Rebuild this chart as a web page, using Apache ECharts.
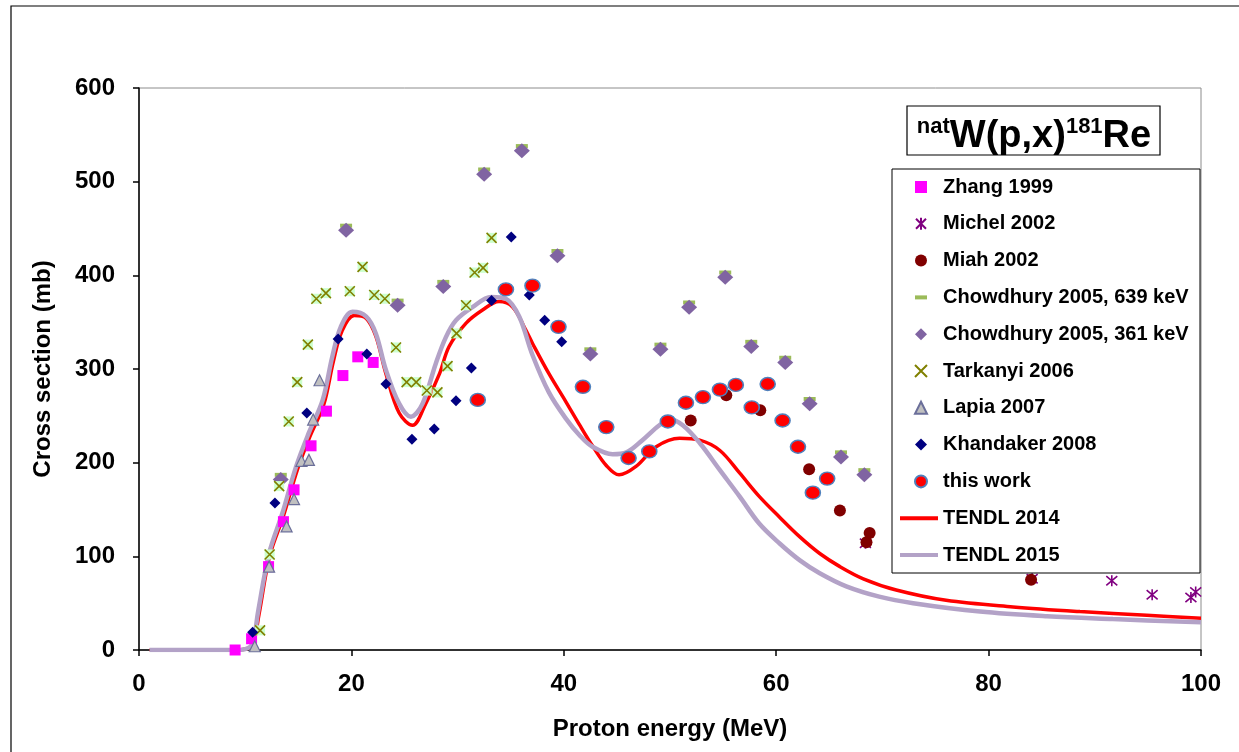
<!DOCTYPE html>
<html>
<head>
<meta charset="utf-8">
<script src="https://cdn.jsdelivr.net/npm/echarts@6/dist/echarts.min.js"></script>
<style>
  html, body { margin: 0; padding: 0; background: #fff; }
  #chart { width: 1239px; height: 752px; }
</style>
</head>
<body>
<div id="chart"></div>
<script>
// energy (MeV), cross section (mb)
var zhang1999 = [[9.05,0],[10.6,12],[12.2,89],[13.6,137],[14.6,171],[16.2,218],[17.65,255],[19.2,293],[20.6,313],[22.05,307]];
var michel2002 = [[68.4,114],[84.1,76],[91.6,74],[95.4,59],[99.05,56],[99.5,62]];
var miah2002 = [[51.95,245],[55.3,272],[58.5,256],[63.1,193],[66.0,149],[68.8,125],[68.5,115],[84.0,75]];
var chowdhury639 = [[13.35,187],[19.5,453],[24.35,373],[28.65,393],[32.5,513],[36.05,538],[39.4,426],[42.5,321],[49.1,326],[51.8,371],[55.2,403],[57.65,329],[60.85,312],[63.15,268],[66.1,211],[68.3,192]];
var chowdhury361 = [[13.35,182],[19.5,448],[24.35,368],[28.65,388],[32.5,508],[36.05,533],[39.4,421],[42.5,316],[49.1,321],[51.8,366],[55.2,398],[57.65,324],[60.85,307],[63.15,263],[66.1,206],[68.3,187]];
var tarkanyi2006 = [[11.4,21],[12.3,102],[13.2,175],[14.1,244],[14.9,286],[15.9,326],[16.7,375],[17.6,381],[19.85,383],[21.05,409],[22.15,379],[23.15,375],[24.2,323],[25.2,286],[26.1,286],[27.1,277],[28.1,275],[29.05,303],[29.9,338],[30.8,368],[31.6,403],[32.4,408],[33.2,440]];
var lapia2007 = [[10.9,4],[12.25,89],[13.9,132],[14.6,161],[15.3,202],[16.0,203],[16.4,246],[17.0,288]];
var khandaker2008 = [[10.7,19],[12.8,157],[15.8,253],[18.75,332],[21.45,316],[23.25,284],[25.7,225],[27.8,236],[29.85,266],[31.3,301],[33.2,373],[35.05,441],[36.75,379],[38.2,352],[39.8,329]];
var thisWork = [[31.9,267],[34.55,385],[37.05,389],[39.5,345],[41.8,281],[44.0,238],[46.1,205],[48.05,212],[49.8,244],[51.5,264],[53.1,270],[54.7,278],[56.2,283],[57.7,259],[59.2,284],[60.6,245],[62.05,217],[63.45,168],[64.8,183]];
var tendl2014 = [[1,0],[5,0],[9,0],[10,1],[10.7,5],[11.3,38],[12.3,100],[13.6,143],[14.9,192],[16.1,228],[17.4,262],[18.3,308],[19.1,340],[20.26,357],[21.4,354],[22.3,335],[23.25,295],[24.5,253],[25.76,240],[27.0,263],[28.3,295],[29.2,324],[30.8,349],[32.35,363],[33.9,372],[35.2,366],[36.4,342],[37.07,327],[38.6,295],[40.2,265],[41.5,240],[42.7,218],[44.0,197],[45.2,187],[46.8,196],[48.7,217],[50.9,226],[52.8,224],[54.7,213],[56.55,189],[58.4,164],[60.3,142],[62.2,121],[64.1,103],[66.0,89],[68.2,76],[71.3,64],[76.0,53],[82.3,46],[88.6,41],[94.9,37],[100,34]];
var tendl2015 = [[1,0],[5,0],[9,0],[10,1],[10.7,7],[11.2,40],[12.25,103],[13.5,146],[14.8,196],[16.0,232],[17.3,267],[18.2,313],[19.0,345],[20.1,361],[21.4,356],[22.3,338],[23.25,299],[24.5,263],[25.6,249],[26.7,263],[27.95,306],[28.9,334],[29.85,352],[31.4,366],[33.15,377],[34.55,375],[35.8,356],[37.05,315],[38.6,275],[40.2,247],[41.5,229],[42.7,217],[44.6,209],[45.9,211],[47.4,224],[49.0,240],[50.0,246],[51.2,240],[52.8,221],[54.7,192],[56.55,164],[58.4,135],[60.3,114],[62.2,96],[64.1,82],[66.6,68],[69.7,57],[72.9,50],[79.2,41],[85.5,36],[91.7,33],[100,29.5]];

var xTicks = { min: 0, max: 100, interval: 20 };
var yTicks = { min: 0, max: 600, interval: 100 };

var font = "'Liberation Sans', Arial, sans-serif";
var asterisk = 'path://M0,0L10,10M10,0L0,10M5,-1L5,11';
var cross = 'path://M0,0L10,10M10,0L0,10';
// dash with empty move-to points so the legend icon keeps its flat shape
var dashIcon = 'path://M0,-4L0,-4M0,0h12v4h-12zM0,8L0,8';

var myChart = echarts.init(document.getElementById('chart'));

function scatter(name, data, symbol, size, style, z) {
  style.opacity = 1;
  return {
    name: name,
    type: 'scatter',
    data: data,
    symbol: symbol,
    symbolSize: size,
    itemStyle: style,
    z: z || 3,
    silent: true
  };
}

var legendText = { fontFamily: font, fontWeight: 'bold', fontSize: 20, color: '#000', lineHeight: 22 };

option = {
  animation: false,
  backgroundColor: '#fff',
  grid: {
    left: 139, right: 38, top: 88, bottom: 102,
    show: true, borderColor: '#8c8c8c', borderWidth: 1
  },
  xAxis: {
    type: 'value',
    min: xTicks.min, max: xTicks.max, interval: xTicks.interval,
    name: 'Proton energy (MeV)',
    nameLocation: 'middle',
    nameGap: 67,
    nameTextStyle: { fontFamily: font, fontWeight: 'bold', fontSize: 24, color: '#000' },
    axisLine: { lineStyle: { color: '#000', width: 1.5 } },
    axisTick: { inside: false, length: 6, lineStyle: { color: '#000', width: 1.5 } },
    axisLabel: { margin: 22, fontFamily: font, fontWeight: 'bold', fontSize: 24, color: '#000' },
    splitLine: { show: false }
  },
  yAxis: {
    type: 'value',
    min: yTicks.min, max: yTicks.max, interval: yTicks.interval,
    name: 'Cross section (mb)',
    nameLocation: 'middle',
    nameGap: 84,
    nameTextStyle: { fontFamily: font, fontWeight: 'bold', fontSize: 24, color: '#000' },
    axisLine: { show: true, lineStyle: { color: '#000', width: 1.5 } },
    axisTick: { show: true, inside: false, length: 6, lineStyle: { color: '#000', width: 1.5 } },
    axisLabel: { margin: 24, fontFamily: font, fontWeight: 'bold', fontSize: 24, color: '#000' },
    splitLine: { show: false }
  },
  legend: [
    {
      orient: 'vertical',
      left: 914, top: 176,
      padding: 0,
      selectedMode: false,
      itemWidth: 12, itemHeight: 12, itemGap: 14.8,
      textStyle: Object.assign({ padding: [0, 0, 0, 11] }, legendText),
      data: [
        'Zhang 1999', 'Michel 2002', 'Miah 2002',
        { name: 'Chowdhury 2005, 639 keV', icon: dashIcon },
        'Chowdhury 2005, 361 keV', 'Tarkanyi 2006', 'Lapia 2007',
        'Khandaker 2008', 'this work'
      ]
    },
    {
      orient: 'vertical',
      left: 900, top: 507.2,
      padding: 0,
      selectedMode: false,
      itemWidth: 38, itemHeight: 4, itemGap: 14.8,
      textStyle: legendText,
      data: [
        { name: 'TENDL 2014', icon: 'rect' },
        { name: 'TENDL 2015', icon: 'rect' }
      ]
    }
  ],
  series: [
    {
      name: 'TENDL 2014', type: 'line', data: tendl2014, smooth: 0.35,
      symbol: 'none', z: 1, silent: true,
      lineStyle: { color: '#ff0000', width: 3.5 }, itemStyle: { color: '#ff0000' }
    },
    {
      name: 'TENDL 2015', type: 'line', data: tendl2015, smooth: 0.35,
      symbol: 'none', z: 1, silent: true,
      lineStyle: { color: '#b3a2c7', width: 4.5 }, itemStyle: { color: '#b3a2c7' }
    },
    scatter('Zhang 1999', zhang1999, 'rect', 11, { color: '#ff00ff' }),
    scatter('Michel 2002', michel2002, asterisk, 11, { color: 'rgba(0,0,0,0)', borderColor: '#800080', borderWidth: 1.6 }),
    scatter('Miah 2002', miah2002, 'circle', 12, { color: '#800000' }),
    scatter('Chowdhury 2005, 639 keV', chowdhury639, 'rect', [12, 4], { color: '#9bbb59' }),
    scatter('Chowdhury 2005, 361 keV', chowdhury361, 'diamond', [16, 15], { color: '#8064a2' }),
    // pale green box behind the Tarkanyi crosses (not in legend)
    scatter('tarkanyiBack', tarkanyi2006, 'rect', 10, { color: '#ccffcc' }),
    scatter('Tarkanyi 2006', tarkanyi2006, cross, 10, { color: 'rgba(0,0,0,0)', borderColor: '#808000', borderWidth: 1.6 }),
    scatter('Lapia 2007', lapia2007, 'triangle', 11, { color: '#c0c0c0', borderColor: '#6b6f9a', borderWidth: 1.2 }),
    scatter('Khandaker 2008', khandaker2008, 'diamond', 11, { color: '#000080' }),
    scatter('this work', thisWork, 'circle', [15, 13], { color: '#ff0000', borderColor: '#4f81bd', borderWidth: 1.5 })
  ],
  graphic: [
    {
      type: 'rect', silent: true, z: 0,
      shape: { x: 11, y: 6, width: 1300, height: 800 },
      style: { fill: 'none', stroke: '#000', lineWidth: 1.2 }
    },
    {
      // legend frame, hides the marks behind it
      type: 'rect', silent: true, z: 3.5,
      shape: { x: 892, y: 169, width: 308, height: 404 },
      style: { fill: '#fff', stroke: '#000', lineWidth: 1 }
    },
    {
      type: 'rect', silent: true, z: 10,
      shape: { x: 907, y: 106, width: 253, height: 49 },
      style: { fill: '#fff', stroke: '#000', lineWidth: 1.2 }
    },
    {
      type: 'text', silent: true, z: 11,
      x: 1034, y: 136,
      style: {
        text: '{sup|nat}{main|W(p,x)}{sup|181}{main|Re}',
        align: 'center', verticalAlign: 'middle',
        fill: '#000',
        rich: {
          sup: { fontFamily: font, fontWeight: 'bold', fontSize: 22, lineHeight: 36, verticalAlign: 'top' },
          main: { fontFamily: font, fontWeight: 'bold', fontSize: 38, lineHeight: 40, verticalAlign: 'bottom' }
        }
      }
    }
  ]
};
myChart.setOption(option);
</script>
</body>
</html>
